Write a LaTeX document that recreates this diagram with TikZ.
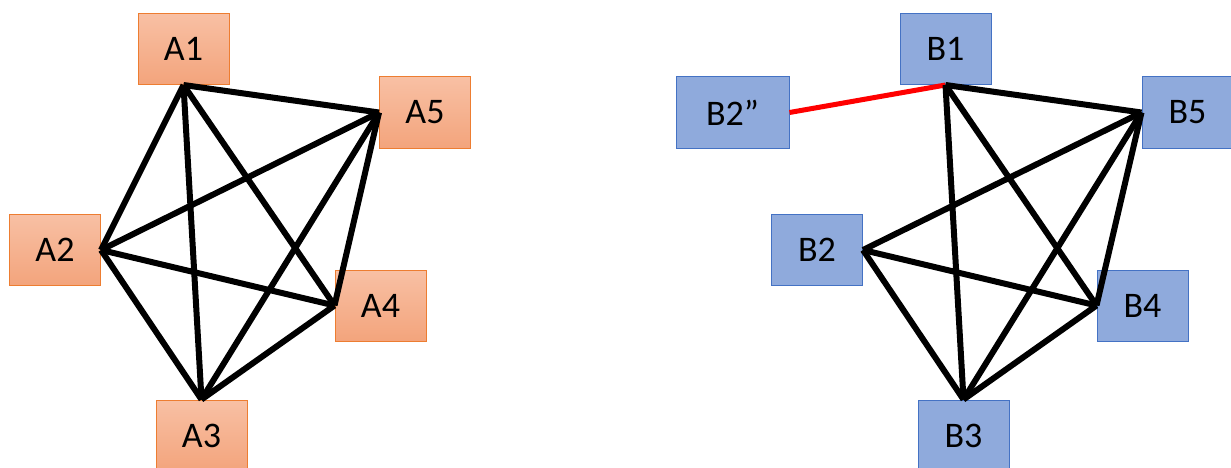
\documentclass[tikz,border=0pt]{standalone}
\usepackage{fontspec}
\setmainfont{Carlito}
\usepackage{tikz}
\usetikzlibrary{positioning}
\definecolor{myorange}{RGB}{237,125,49}
\definecolor{orangetop}{RGB}{248,192,164}
\definecolor{orangebot}{RGB}{243,164,124}
\definecolor{myblue}{RGB}{68,114,196}
\definecolor{bluefill}{RGB}{143,170,220}
\definecolor{myred}{RGB}{255,0,0}

\tikzset{
    abox/.style={draw=myorange, line width=1pt, top color=orangetop, bottom color=orangebot,
                 minimum width=91pt, minimum height=71pt, inner sep=0pt,
                 font=\fontsize{36}{40}\selectfont},
    bbox/.style={draw=myblue, line width=1pt, fill=bluefill,
                 minimum width=91pt, minimum height=71pt, inner sep=0pt,
                 font=\fontsize{36}{40}\selectfont},
    link/.style={line width=6pt, black},
}

\begin{document}
\begin{tikzpicture}[x=1pt, y=-1pt]
    \useasboundingbox (0,0) rectangle (1231,468);
    \clip (0,0) rectangle (1231,468);

    % left graph
    \node[abox] (A1) at (183.5,49) {A1};
    \node[abox] (A5) at (425,112.5) {A5};
    \node[abox] (A2) at (55,250) {A2};
    \node[abox] (A4) at (380.5,305.5) {A4};
    \node[abox] (A3) at (201.5,435.5) {A3};

    \coordinate (a1) at (A1.south);
    \coordinate (a5) at (A5.west);
    \coordinate (a2) at (A2.east);
    \coordinate (a4) at (A4.west);
    \coordinate (a3) at (A3.north);

    \foreach \u/\v in {a1/a5, a1/a2, a1/a4, a1/a3, a5/a2, a5/a4, a5/a3, a2/a4, a2/a3, a4/a3}
        \draw[link] (\u) -- (\v);

    % right graph
    \node[bbox] (B1) at (945.5,49) {B1};
    \node[bbox, minimum width=113pt] (B2x) at (732.5,112.5) {B2”};
    \node[bbox] (B5) at (1187.5,112.5) {B5};
    \node[bbox] (B2) at (817,250) {B2};
    \node[bbox] (B4) at (1142.5,305.5) {B4};
    \node[bbox] (B3) at (963.5,435.5) {B3};

    \coordinate (b1) at (B1.south);
    \coordinate (b5) at (B5.west);
    \coordinate (b2) at (B2.east);
    \coordinate (b4) at (B4.west);
    \coordinate (b3) at (B3.north);

    \draw[line width=5pt, myred] (B2x.east) -- (b1);

    \foreach \u/\v in {b1/b5, b1/b4, b1/b3, b5/b2, b5/b4, b5/b3, b2/b4, b2/b3, b4/b3}
        \draw[link] (\u) -- (\v);
\end{tikzpicture}
\end{document}
